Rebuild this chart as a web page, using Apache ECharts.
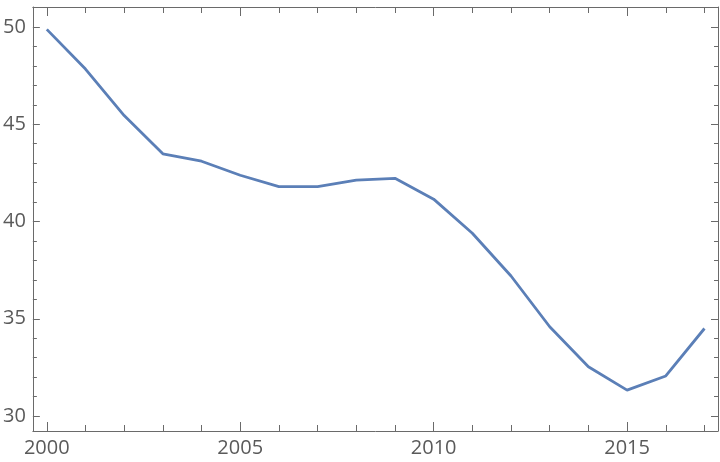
<!DOCTYPE html>
<html>
<head>
<meta charset="utf-8">
<script src="https://cdn.jsdelivr.net/npm/echarts@6/dist/echarts.min.js"></script>
<style>
  html, body { margin: 0; padding: 0; background: #fff; }
  #chart { width: 720px; height: 462px; }
</style>
</head>
<body>
<div id="chart"></div>
<script>
  const years = [2000, 2001, 2002, 2003, 2004, 2005, 2006, 2007, 2008,
    2009, 2010, 2011, 2012, 2013, 2014, 2015, 2016, 2017];
  const values = [49.88, 47.84, 45.45, 43.48, 43.1, 42.38, 41.79, 41.79, 42.13,
    42.22, 41.15, 39.4, 37.2, 34.59, 32.53, 31.33, 32.06, 34.5];
  const xMajor = [2000, 2005, 2010, 2015];
  const yMajor = [30, 35, 40, 45, 50];
  const xMinor = years.filter(y => !xMajor.includes(y));
  const yMinor = [];
  for (let v = 30; v <= 51; v++) if (!yMajor.includes(v)) yMinor.push(v);

  const axisColor = '#6a6a6a';
  const labelStyle = { color: '#5a5a5a', fontSize: 20, fontFamily: 'Open Sans' };
  const xRange = { min: 1999.64, max: 2017.35 };
  const yRange = { min: 29.23, max: 51.03 };

  function xAx(position, ticks, len, withLabel, showLine) {
    return {
      type: 'value', position, ...xRange,
      axisLine: { show: showLine, onZero: false, lineStyle: { color: axisColor, width: 1 } },
      axisTick: { show: true, inside: true, length: len, customValues: ticks,
        lineStyle: { color: axisColor, width: 1 } },
      axisLabel: withLabel
        ? { show: true, customValues: xMajor, margin: 7, formatter: v => String(v), ...labelStyle }
        : { show: false },
      splitLine: { show: false },
    };
  }
  function yAx(position, ticks, len, withLabel, showLine) {
    return {
      type: 'value', position, ...yRange,
      axisLine: { show: showLine, onZero: false, lineStyle: { color: axisColor, width: 1 } },
      axisTick: { show: true, inside: true, length: len, customValues: ticks,
        lineStyle: { color: axisColor, width: 1 } },
      axisLabel: withLabel
        ? { show: true, customValues: yMajor, margin: 7, formatter: v => String(v), ...labelStyle }
        : { show: false },
      splitLine: { show: false },
    };
  }

  const chart = echarts.init(document.getElementById('chart'));
  chart.setOption({
    animation: false,
    grid: { left: 32, right: 2, top: 7, bottom: 31, containLabel: false },
    xAxis: [
      xAx('bottom', xMajor, 9, true, true),
      xAx('bottom', xMinor, 6, false, false),
      xAx('top', xMajor, 9, false, true),
      xAx('top', xMinor, 6, false, false),
    ],
    yAxis: [
      yAx('left', yMajor, 7, true, true),
      yAx('left', yMinor, 4, false, false),
      yAx('right', yMajor, 7, false, true),
      yAx('right', yMinor, 4, false, false),
    ],
    series: [{
      type: 'line',
      xAxisIndex: 0,
      yAxisIndex: 0,
      data: years.map((y, i) => [y, values[i]]),
      showSymbol: false,
      lineStyle: { color: '#5b7fb7', width: 2.8 },
    }],
  });
</script>
</body>
</html>
